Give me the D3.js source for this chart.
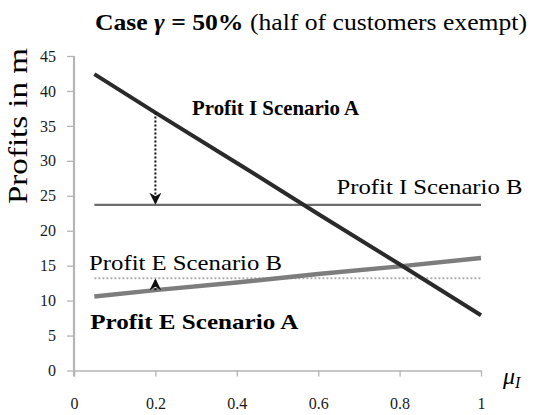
<!DOCTYPE html>
<html>
<head>
<meta charset="utf-8">
<script src="https://cdn.jsdelivr.net/npm/d3@7"></script>
<style>
  body { margin: 0; background: #fff; }
  svg { display: block; font-family: "Liberation Serif", "Times New Roman", serif; }
</style>
</head>
<body>
<div id="chart"></div>
<script>

// x values (mu_I) sampled along the lines
var muValues = [0.05, 0.2, 0.4, 0.6, 0.8, 1.0];

// Profit I Scenario A (falls with mu_I)
var profitIA = [42.4, 36.9, 29.7, 22.4, 15.2, 7.9];
// Profit I Scenario B (flat)
var profitIB = [23.7, 23.7, 23.7, 23.7, 23.7, 23.7];
// Profit E Scenario A (rises slowly)
var profitEA = [10.6, 11.5, 12.6, 13.8, 14.9, 16.1];
// Profit E Scenario B (flat, dotted)
var profitEB = [13.2, 13.2, 13.2, 13.2, 13.2, 13.2];

var xTicks = [0, 0.2, 0.4, 0.6, 0.8, 1];
var yTicks = [0, 5, 10, 15, 20, 25, 30, 35, 40, 45];

// arrows: [x, from, to]
var arrowIA = [0.2, 36.9, 23.9];
var arrowEA = [0.2, 11.5, 13.0];

// text annotations: [label, x, y, bold]
var notes = [
  ["Profit I Scenario A", 0.29, 36.5, true],
  ["Profit I Scenario B", 0.645, 25.2, false],
  ["Profit E Scenario B", 0.037, 14.4, false],
  ["Profit E Scenario A", 0.04, 5.9, true]
];
var noteWidths = [167, 186, 193, 208];

var W = 534, H = 415;
var mLeft = 74, mRight = 481, mTop = 56, mBottom = 370.5;

var svg = d3.select("#chart").append("svg")
  .attr("width", W)
  .attr("height", H);

var x = d3.scaleLinear().domain([0, 1]).range([mLeft, mRight]);
var y = d3.scaleLinear().domain([0, 45]).range([mBottom, mTop]);

// arrow marker
var defs = svg.append("defs");
defs.append("marker")
  .attr("id", "head")
  .attr("viewBox", "0 0 10 10")
  .attr("refX", 9)
  .attr("refY", 5)
  .attr("markerWidth", 12)
  .attr("markerHeight", 12)
  .attr("markerUnits", "userSpaceOnUse")
  .attr("orient", "auto")
  .append("path")
    .attr("d", "M0,0 L10,5 L0,10 L3,5 Z")
    .attr("fill", "#111");

// title
var title = svg.append("text")
  .attr("x", 95)
  .attr("y", 30)
  .attr("textLength", 432)
  .attr("lengthAdjust", "spacingAndGlyphs")
  .style("font-size", "24px")
  .attr("fill", "#000");
title.append("tspan").attr("font-weight", "bold").text("Case ");
title.append("tspan").attr("font-weight", "bold").attr("font-style", "italic").text("γ");
title.append("tspan").attr("font-weight", "bold").text(" = 50%");
title.append("tspan").text(" (half of customers exempt)");

// y label
svg.append("text")
  .attr("transform", "translate(27,126) rotate(-90)")
  .attr("text-anchor", "middle")
  .attr("textLength", 156)
  .attr("lengthAdjust", "spacingAndGlyphs")
  .style("font-size", "27px")
  .text("Profits in m");

// axes
var xAxis = svg.append("g")
  .attr("transform", "translate(0," + mBottom + ")")
  .call(d3.axisBottom(x).tickValues(xTicks).tickSize(6).tickSizeOuter(0)
    .tickFormat(function(d) { return d === 0 || d === 1 ? d3.format("d")(d) : d3.format(".1f")(d); }));
xAxis.select(".domain").attr("stroke", "#b5b5b5").attr("stroke-width", 1.3);
xAxis.selectAll(".tick line").attr("stroke", "#b5b5b5").attr("stroke-width", 1.3);
xAxis.selectAll(".tick text")
  .attr("y", 27)
  .style("font-size", "16px")
  .style("font-family", "'Liberation Serif', serif")
  .attr("fill", "#1a1a1a");

var yAxis = svg.append("g")
  .attr("transform", "translate(" + mLeft + ",0)")
  .call(d3.axisLeft(y).tickValues(yTicks).tickSize(7).tickSizeOuter(0));
yAxis.select(".domain").attr("stroke", "#b5b5b5").attr("stroke-width", 2.2)
  .attr("d", "M0," + y(45) + "V" + (mBottom + 6));
yAxis.selectAll(".tick line").attr("stroke", "#b5b5b5").attr("stroke-width", 1.3);
yAxis.selectAll(".tick text")
  .attr("x", -18)
  .style("font-size", "16px")
  .style("font-family", "'Liberation Serif', serif")
  .attr("fill", "#1a1a1a");

// mu_I label
var mu = svg.append("text")
  .attr("x", 503)
  .attr("y", 384)
  .style("font-size", "24px")
  .style("font-style", "italic")
  .text("μ");
mu.append("tspan").attr("dy", 4).style("font-size", "16px").text("I");

// lines
var line = d3.line()
  .x(function(d) { return x(d[0]); })
  .y(function(d) { return y(d[1]); });

function pairs(vals) { return muValues.map(function(m, i) { return [m, vals[i]]; }); }

svg.append("path").datum(pairs(profitEB))
  .attr("d", line).attr("fill", "none")
  .attr("stroke", "#b0b0b0").attr("stroke-width", 2).attr("stroke-dasharray", "2,2");

svg.append("path").datum(pairs(profitIB))
  .attr("d", line).attr("fill", "none")
  .attr("stroke", "#6e6e6e").attr("stroke-width", 2.2);

svg.append("path").datum(pairs(profitEA))
  .attr("d", line).attr("fill", "none")
  .attr("stroke", "#7d7d7d").attr("stroke-width", 4.5);

svg.append("path").datum(pairs(profitIA))
  .attr("d", line).attr("fill", "none")
  .attr("stroke", "#2a2a2a").attr("stroke-width", 4);

// arrows
[arrowIA, arrowEA].forEach(function(a) {
  svg.append("line")
    .attr("x1", x(a[0])).attr("x2", x(a[0]))
    .attr("y1", y(a[1])).attr("y2", y(a[2]))
    .attr("stroke", "#111")
    .attr("stroke-width", 2)
    .attr("stroke-dasharray", "2,2")
    .attr("marker-end", "url(#head)");
});

// annotations
notes.forEach(function(n, i) {
  svg.append("text")
    .attr("x", x(n[1]))
    .attr("y", y(n[2]))
    .attr("font-weight", n[3] ? "bold" : "normal")
    .attr("textLength", noteWidths[i])
    .attr("lengthAdjust", "spacingAndGlyphs")
    .style("font-size", "22px")
    .attr("fill", "#000")
    .text(n[0]);
});

</script>
</body>
</html>
